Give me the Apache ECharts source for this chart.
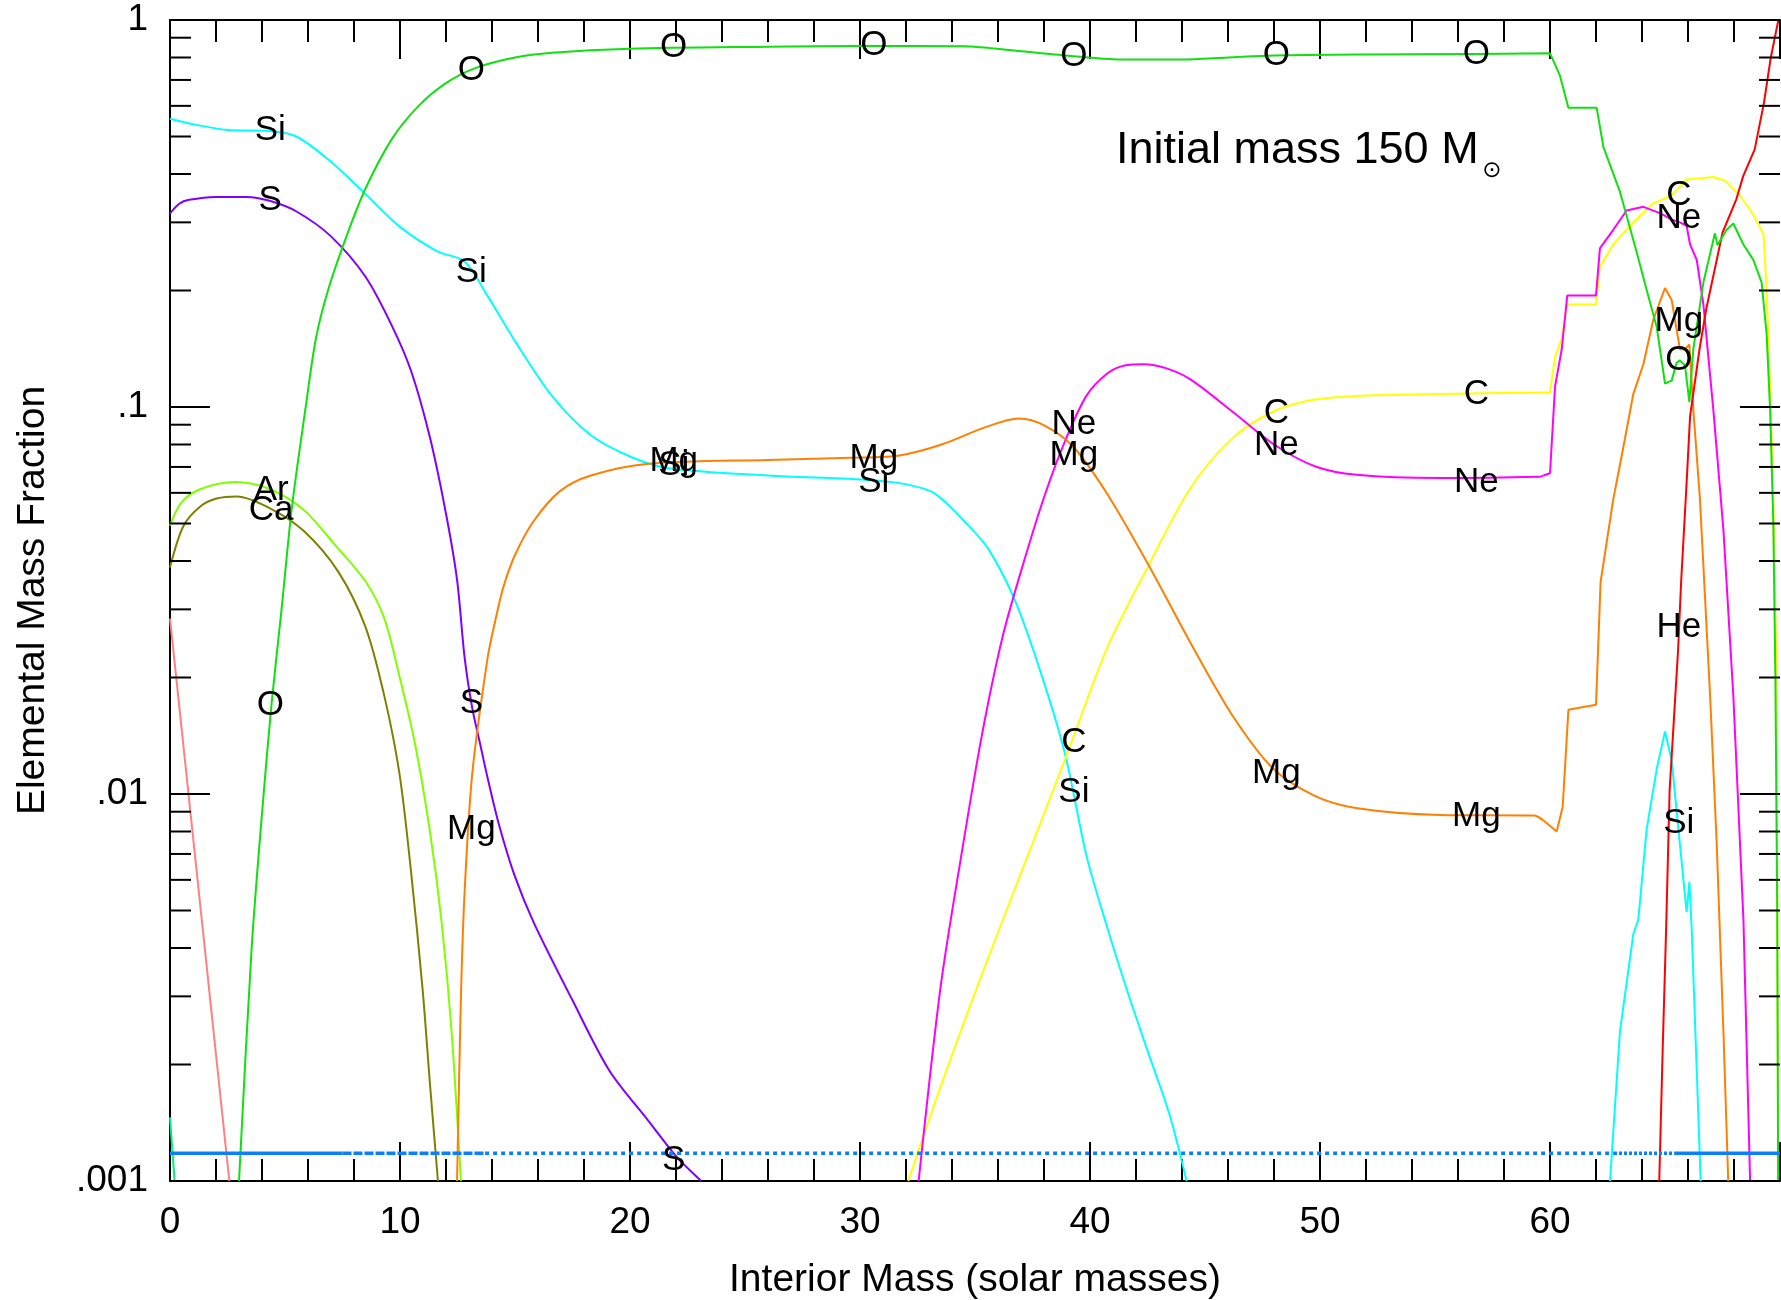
<!DOCTYPE html>
<html>
<head>
<meta charset="utf-8">
<title>Elemental Mass Fraction - 150 Msun</title>
<script src="https://cdn.jsdelivr.net/npm/echarts@6/dist/echarts.min.js"></script>
<style>
html, body { margin: 0; padding: 0; background: #fff; }
#main { width: 1781px; height: 1300px; }
</style>
</head>
<body>
<div id="main"></div>
<script>
// interior mass (Msun) vs mass fraction
var oxygen = [[3.0,0.001],[3.55,0.004],[4.0,0.0089],[4.42,0.0172],[4.85,0.03],[5.3,0.055],[5.9,0.1],[6.35,0.151],[6.9,0.203],[7.7,0.279],[8.5,0.367],[9.65,0.493],[10.8,0.599],[12,0.687],[13.3,0.752],[15,0.8],[16.6,0.823],[20,0.843],[26,0.853],[30,0.857],[34.5,0.855],[37,0.83],[39.3,0.806],[41.5,0.79],[44,0.79],[46,0.8],[48,0.81],[52,0.815],[56.8,0.817],[60.0,0.82],[60.43,0.719],[60.8,0.593],[62.03,0.593],[62.32,0.47],[63.04,0.36],[63.77,0.251],[64.2,0.201],[64.64,0.161],[65.0,0.115],[65.29,0.117],[65.5,0.13],[65.65,0.132],[65.87,0.128],[66.06,0.103],[66.23,0.141],[66.67,0.21],[67.17,0.281],[67.28,0.262],[67.68,0.287],[67.97,0.298],[68.41,0.263],[68.84,0.24],[69.2,0.21],[69.42,0.154],[69.57,0.0986],[69.71,0.05],[69.8,0.02],[69.88,0.005],[69.92,0.001]];
var siliconInner = [[0,0.556],[1.2,0.535],[2.5,0.52],[4.33,0.517],[5.5,0.5],[7,0.43],[8.5,0.355],[10,0.292],[11.65,0.252],[12.8,0.238],[13.8,0.194],[15,0.148],[16.6,0.107],[18.3,0.0845],[20,0.0745],[21.6,0.0696],[26,0.0665],[30,0.065],[31.7,0.0636],[33.2,0.06],[34.6,0.0502],[35.6,0.0428],[36.8,0.031],[38.05,0.019],[38.95,0.01244],[39.85,0.00691],[40.75,0.00452],[41.65,0.00306],[42.55,0.00213],[43.45,0.00149],[44.2,0.001]];
var siliconOuter = [[62.61,0.001],[63.04,0.00243],[63.62,0.00434],[63.84,0.00474],[64.2,0.00809],[64.64,0.0116],[65.0,0.0145],[65.29,0.0122],[65.65,0.0074],[65.94,0.00495],[66.06,0.00592],[66.16,0.0045],[66.38,0.00193],[66.55,0.001]];
var sulfur = [[0,0.316],[0.4,0.335],[0.83,0.343],[2,0.349],[3.33,0.349],[4.33,0.341],[5.5,0.32],[7,0.276],[8.5,0.217],[9.65,0.162],[10.5,0.123],[11.3,0.0835],[12,0.053],[12.48,0.0358],[12.81,0.0225],[13.14,0.0167],[13.48,0.0135],[13.81,0.011],[14.31,0.0083],[14.98,0.00616],[15.81,0.00466],[17.5,0.00293],[19.1,0.00193],[20.8,0.00143],[22,0.00116],[23.1,0.001]];
var magnesium = [[12.48,0.001],[12.65,0.003],[12.81,0.0056],[13.14,0.01125],[13.81,0.0225],[14.14,0.028],[14.48,0.034],[14.98,0.0412],[15.8,0.0506],[16.97,0.0607],[18.3,0.0665],[20.8,0.0713],[26,0.073],[30,0.074],[31.7,0.0749],[33.55,0.08],[35.35,0.0882],[36.9,0.0934],[38.05,0.0894],[39.3,0.0786],[40.75,0.0596],[42.55,0.039],[44.35,0.0247],[46.15,0.0161],[47.95,0.01165],[49.75,0.0099],[51.55,0.0092],[55.2,0.00883],[59.3,0.0088],[59.71,0.00855],[60.29,0.008],[60.55,0.00925],[60.8,0.0165],[62.0,0.017],[62.2,0.0353],[62.75,0.0577],[63.19,0.0788],[63.62,0.108],[64.06,0.129],[64.49,0.168],[65.0,0.203],[65.29,0.189],[65.65,0.141],[65.87,0.141],[66.06,0.145],[66.23,0.0986],[66.52,0.0577],[66.96,0.018],[67.25,0.0074],[67.54,0.00243],[67.75,0.001]];
var neon = [[32.55,0.001],[33.5,0.00316],[34.4,0.00691],[35.3,0.0142],[36.2,0.0255],[37.15,0.0403],[38.05,0.0596],[38.95,0.0826],[39.85,0.107],[40.75,0.122],[41.5,0.128],[42.35,0.129],[43.3,0.126],[44.35,0.118],[46.2,0.0972],[48,0.08],[49.8,0.0702],[51.6,0.0668],[55.2,0.0655],[59.5,0.066],[59.71,0.0665],[60.0,0.0674],[60.22,0.113],[60.51,0.141],[60.75,0.194],[62.0,0.194],[62.17,0.257],[62.75,0.287],[63.33,0.322],[64.06,0.329],[64.78,0.317],[65.3,0.305],[65.65,0.30],[65.94,0.294],[66.09,0.263],[66.38,0.24],[66.67,0.184],[67.1,0.0986],[67.54,0.0482],[67.97,0.018],[68.41,0.00474],[68.7,0.001]];
var carbon = [[32.1,0.001],[33.5,0.00175],[35.35,0.00348],[37.1,0.00647],[38.95,0.01244],[40.75,0.0239],[42.55,0.039],[44.35,0.0615],[46.15,0.0826],[47.95,0.0972],[49.75,0.1045],[51.55,0.1067],[55.2,0.108],[59.7,0.109],[60.0,0.109],[60.22,0.135],[60.51,0.15],[60.75,0.184],[62.0,0.184],[62.17,0.23],[62.75,0.263],[63.48,0.294],[64.49,0.336],[65.29,0.352],[65.94,0.387],[67.1,0.393],[67.6,0.385],[68.26,0.352],[68.84,0.314],[69.28,0.28],[69.42,0.2],[69.55,0.12],[69.7,0.06],[69.85,0.02],[69.92,0.001]];
var helium = [[64.75,0.001],[64.9,0.0022],[65.05,0.0045],[65.2,0.0102],[65.57,0.0236],[65.7,0.0352],[65.94,0.0638],[66.09,0.0946],[66.5,0.141],[66.8,0.18],[67.1,0.218],[67.5,0.282],[68.1,0.344],[68.4,0.395],[68.9,0.463],[69.3,0.61],[69.6,0.8],[69.93,1.0]];
var argon = [[0,0.0494],[0.5,0.0567],[1.33,0.0614],[2.83,0.064],[4.33,0.0614],[5.82,0.0542],[7.15,0.0442],[8.49,0.0355],[9.32,0.0284],[9.98,0.0201],[10.65,0.0135],[11.31,0.00794],[11.81,0.00466],[12.23,0.00249],[12.65,0.001]];
var calcium = [[0,0.0385],[0.58,0.0492],[1.33,0.0554],[2.03,0.058],[2.9,0.0587],[4.33,0.0548],[5.82,0.0478],[7.32,0.0375],[8.49,0.0271],[9.32,0.0179],[9.98,0.01125],[10.48,0.0063],[10.98,0.00314],[11.31,0.00176],[11.65,0.001]];
var pinkTrace = [[0,0.0284],[2.58,0.001]];
var tealTrace = [[0,0.00146],[0.2,0.001]];
var blueLevel = 0.00118;
var blueBreaks = [0, 7.5, 13.7, 63, 65.4, 70];

// text labels on the curves: [mass, fraction, element]
var elementLabels = [
  [4.36,0.519,'Si'],[4.36,0.341,'S'],[4.4,0.061,'Ar'],[4.4,0.054,'Ca'],[4.36,0.0169,'O'],
  [13.1,0.743,'O'],[13.1,0.223,'Si'],[13.1,0.0171,'S'],[13.1,0.00808,'Mg'],
  [21.9,0.85,'O'],[21.9,0.0722,'Mg'],[21.9,0.0707,'Si'],[21.9,0.00113,'S'],
  [30.6,0.859,'O'],[30.6,0.0736,'Mg'],[30.6,0.0639,'Si'],
  [39.3,0.805,'O'],[39.3,0.0902,'Ne'],[39.3,0.0751,'Mg'],[39.3,0.0136,'C'],[39.3,0.0101,'Si'],
  [48.1,0.811,'O'],[48.1,0.0965,'C'],[48.1,0.0798,'Ne'],[48.1,0.0113,'Mg'],
  [56.8,0.817,'O'],[56.8,0.108,'C'],[56.8,0.0639,'Ne'],[56.8,0.00875,'Mg'],
  [65.6,0.353,'C'],[65.6,0.308,'Ne'],[65.6,0.166,'Mg'],[65.6,0.132,'O'],[65.6,0.0269,'He'],[65.6,0.00841,'Si']
];

var xMin = 0, xMax = 70, xInterval = 10;
var yTickValues = [0.001, 0.01, 0.1, 1];
var yTickLabels = ['.001', '.01', '.1', '1'];
var yMinorTicks = [0.002,0.003,0.004,0.005,0.006,0.007,0.008,0.009,0.02,0.03,0.04,0.05,0.06,0.07,0.08,0.09,0.2,0.3,0.4,0.5,0.6,0.7,0.8,0.9];
var stepStart = 59.8; // beyond this the profiles are stair-stepped

var FONT = 'Liberation Sans';

var chart = echarts.init(document.getElementById('main'));

function lineSeries(name, data, color, width, dash, smooth) {
  return {
    name: name,
    type: 'line',
    data: data,
    showSymbol: false,
    symbol: 'none',
    silent: true,
    z: 3,
    smooth: smooth || false,
    lineStyle: { color: color, width: width || 2, type: dash || 'solid' },
    xAxisIndex: 0,
    yAxisIndex: 0
  };
}

// smooth part up to stepStart, straight segments afterwards
function profile(name, data, color) {
  var k = 0;
  for (var i = 0; i < data.length; i++) {
    if (data[i][0] <= stepStart) k = i;
  }
  var out = [lineSeries(name, data.slice(0, k + 1), color, 2, 'solid', 0.3)];
  if (k < data.length - 1) {
    out.push(lineSeries(name + ' outer', data.slice(k), color, 2, 'solid', false));
  }
  return out;
}

// blue level line: solid / dashed / dotted pieces
var blueStyles = ['solid', [9, 2], [4, 4], [3, 2], 'solid'];
var blueSeries = [];
for (var i = 0; i < blueBreaks.length - 1; i++) {
  blueSeries.push(lineSeries('level' + i,
    [[blueBreaks[i], blueLevel], [blueBreaks[i + 1], blueLevel]],
    '#0a80ff', 3.5, blueStyles[i]));
}

var yTickData = yTickValues.map(function (v) { return [xMin, v, 40]; })
  .concat(yMinorTicks.map(function (v) { return [xMin, v, 21]; }));

function yTickItem(params, api) {
  var v = api.value(1);
  var len = api.value(2);
  var l = api.coord([xMin, v]);
  var r = api.coord([xMax, v]);
  var st = { stroke: '#000', lineWidth: 2 };
  return {
    type: 'group',
    children: [
      { type: 'line', shape: { x1: l[0], y1: l[1], x2: l[0] + len, y2: l[1] }, style: st },
      { type: 'line', shape: { x1: r[0], y1: r[1], x2: r[0] - len, y2: r[1] }, style: st }
    ]
  };
}

function labelItem(params, api) {
  var p = api.coord([api.value(0), api.value(1)]);
  return {
    type: 'text',
    x: p[0],
    y: p[1],
    style: {
      text: elementLabels[params.dataIndex][2],
      fontFamily: FONT,
      fontSize: 35,
      fill: '#000',
      align: 'center',
      verticalAlign: 'middle'
    }
  };
}

var axisLineStyle = { lineStyle: { color: '#000', width: 2 } };

var option = {
  animation: false,
  backgroundColor: '#fff',
  grid: { left: 170, right: 1, top: 20, bottom: 119, containLabel: false, outerBoundsMode: 'none' },
  xAxis: [
    {
      type: 'value', min: xMin, max: xMax, interval: xInterval,
      position: 'bottom',
      name: 'Interior Mass (solar masses)',
      nameLocation: 'middle', nameGap: 80,
      nameTextStyle: { fontFamily: FONT, fontSize: 39, color: '#000' },
      axisLine: axisLineStyle,
      axisTick: { inside: true, length: 39, lineStyle: { color: '#000', width: 2 } },
      minorTick: { show: true, splitNumber: 5, length: 22, lineStyle: { color: '#000', width: 2 } },
      axisLabel: { fontFamily: FONT, fontSize: 37, color: '#000', margin: 23, showMaxLabel: false },
      splitLine: { show: false }
    },
    {
      type: 'value', min: xMin, max: xMax, interval: xInterval,
      position: 'top',
      axisLine: axisLineStyle,
      axisTick: { inside: true, length: 39, lineStyle: { color: '#000', width: 2 } },
      minorTick: { show: true, splitNumber: 5, length: 22, lineStyle: { color: '#000', width: 2 } },
      axisLabel: { show: false },
      splitLine: { show: false }
    }
  ],
  yAxis: [
    {
      type: 'log', logBase: 10, min: 0.001, max: 1,
      position: 'left',
      name: 'Elemental Mass Fraction',
      nameLocation: 'middle', nameGap: 117, nameRotate: 90,
      nameTextStyle: { fontFamily: FONT, fontSize: 39, color: '#000' },
      axisLine: axisLineStyle,
      axisTick: { show: false },
      minorTick: { show: false },
      axisLabel: {
        fontFamily: FONT, fontSize: 37, color: '#000', margin: 22,
        formatter: function (v) {
          for (var k = 0; k < yTickValues.length; k++) {
            if (Math.abs(v - yTickValues[k]) < yTickValues[k] * 1e-6) return yTickLabels[k];
          }
          return '';
        }
      },
      splitLine: { show: false }
    },
    {
      type: 'log', logBase: 10, min: 0.001, max: 1,
      position: 'right',
      axisLine: axisLineStyle,
      axisTick: { show: false },
      minorTick: { show: false },
      axisLabel: { show: false },
      splitLine: { show: false }
    }
  ],
  graphic: [
    {
      type: 'text', x: 1116, y: 151, z: 10,
      style: { text: 'Initial mass 150 M', fontFamily: FONT, fontSize: 45, fill: '#000', align: 'left', verticalAlign: 'middle' }
    },
    {
      type: 'text', x: 1492, y: 171, z: 10,
      style: { text: '\u2299', fontFamily: 'DejaVu Sans', fontSize: 23, fill: '#000', align: 'center', verticalAlign: 'middle' }
    }
  ],
  series: [].concat(
    [lineSeries('tealTrace', tealTrace, '#00f080'),
     lineSeries('pinkTrace', pinkTrace, '#ff8080')],
    profile('Ca', calcium, '#808000'),
    profile('Ar', argon, '#80ff00'),
    profile('S', sulfur, '#8000ff'),
    profile('Si', siliconInner, '#00ffff'),
    [lineSeries('Si outer', siliconOuter, '#00ffff')],
    profile('C', carbon, '#ffff00'),
    profile('Ne', neon, '#ff00ff'),
    profile('Mg', magnesium, '#ff8000'),
    [lineSeries('He', helium, '#ff0000')],
    profile('O', oxygen, '#10e010'),
    blueSeries,
    [{
      name: 'yTicks',
      type: 'custom',
      silent: true,
      z: 5,
      data: yTickData,
      renderItem: yTickItem,
      clip: false
    },
    {
      name: 'labels',
      type: 'custom',
      silent: true,
      z: 6,
      data: elementLabels.map(function (d) { return [d[0], d[1]]; }),
      renderItem: labelItem,
      clip: false
    }]
  )
};

chart.setOption(option);
</script>
</body>
</html>
